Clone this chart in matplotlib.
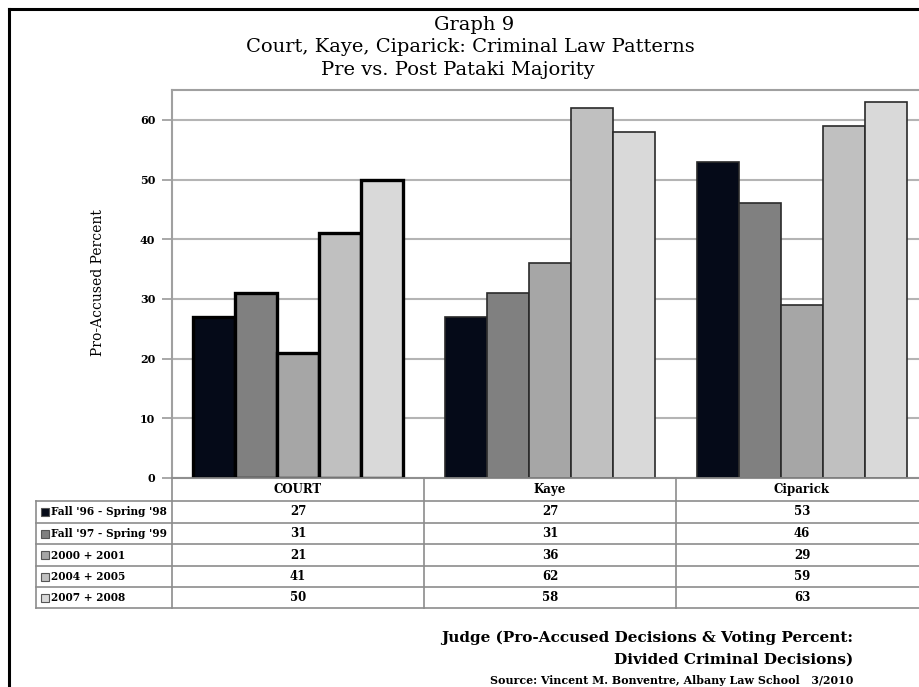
#!/usr/bin/env python

import numpy as np
import matplotlib.pyplot as plt
from matplotlib.lines import Line2D
from matplotlib.patches import Rectangle
from matplotlib.transforms import blended_transform_factory

plt.rcParams['font.family'] = ['DejaVu Serif']

judges = ['COURT', 'Kaye', 'Ciparick']
periods = ["Fall '96 - Spring '98", "Fall '97 - Spring '99",
           '2000 + 2001', '2004 + 2005', '2007 + 2008']
pct_96_98 = [27, 27, 53]
pct_97_99 = [31, 31, 46]
pct_00_01 = [21, 36, 29]
pct_04_05 = [41, 62, 59]
pct_07_08 = [50, 58, 63]
series = [pct_96_98, pct_97_99, pct_00_01, pct_04_05, pct_07_08]
shades = ['#050a18', '#808080', '#a6a6a6', '#c0c0c0', '#d9d9d9']

W, H = 919, 687
fig = plt.figure(figsize=(W / 100, H / 100), dpi=100)

def fx(px):
    return px / W

def fy(py):
    return 1 - py / H

# plot area runs past the right edge, like the cropped original
ax = fig.add_axes([fx(172), fy(478), fx(928 - 172), (478 - 90) / H])

x = np.arange(len(judges))
width = 1 / 6
for i, vals in enumerate(series):
    bars = ax.bar(x + (i - 2) * width, vals, width, color=shades[i],
                  edgecolor='#2a2a2a', linewidth=1.2, zorder=3)
    # COURT bars get the heavy outline
    bars[0].set_edgecolor('black')
    bars[0].set_linewidth(2.4)

ax.set_xlim(-0.5, 2.5)
ax.set_ylim(0, 65)
ax.set_yticks(range(0, 70, 10))
ax.set_yticklabels([str(v) for v in range(0, 70, 10)],
                   fontsize=8, fontweight='bold')
ax.tick_params(axis='y', length=7, width=1.2, color='#999999', pad=5)
ax.set_xticks([])
ax.grid(axis='y', color='#b4b4b4', linewidth=1.5, zorder=0)
for side in ['left', 'top', 'right', 'bottom']:
    ax.spines[side].set_color('#a0a0a0')
    ax.spines[side].set_linewidth(1.5)

fig.text(fx(98), fy(283), 'Pro-Accused Percent', rotation=90,
         ha='center', va='center', fontsize=10)

# title
fig.text(fx(474), fy(25), 'Graph 9', ha='center', va='center', fontsize=14)
fig.text(fx(470), fy(47), 'Court, Kaye, Ciparick: Criminal Law Patterns',
         ha='center', va='center', fontsize=14)
fig.text(fx(458), fy(70), 'Pre vs. Post Pataki Majority',
         ha='center', va='center', fontsize=14)

# data table under the axis
grid_c = '#8c8c8c'
tx = blended_transform_factory(ax.transData, fig.transFigure)
row_lines = [478, 500.7, 522.7, 544.3, 566, 587, 608.3]
for k, py in enumerate(row_lines):
    x0 = 172 if k == 0 else 36
    fig.add_artist(Line2D([fx(x0), 1.0], [fy(py), fy(py)], color=grid_c,
                          linewidth=1.2))
for xb in [-0.5, 0.5, 1.5, 2.5]:
    fig.add_artist(Line2D([xb, xb], [fy(478), fy(608.3)], color=grid_c,
                          linewidth=1.2, transform=tx))
fig.add_artist(Line2D([fx(36), fx(36)], [fy(500.7), fy(608.3)],
                      color=grid_c, linewidth=1.2))

for j, name in enumerate(judges):
    fig.text(x[j], fy(489.5), name, transform=tx, ha='center', va='center',
             fontsize=8.5, fontweight='bold')
for i, vals in enumerate(series):
    yc = (row_lines[i + 1] + row_lines[i + 2]) / 2
    fig.add_artist(Rectangle((fx(41), fy(yc + 4)), fx(8), 8 / H,
                             facecolor=shades[i], edgecolor='#555555',
                             linewidth=0.8))
    fig.text(fx(51), fy(yc), periods[i], ha='left', va='center',
             fontsize=7.6, fontweight='bold')
    for j, v in enumerate(vals):
        fig.text(x[j], fy(yc), str(v), transform=tx, ha='center',
                 va='center', fontsize=8.5, fontweight='bold')

# axis title and source
fig.text(fx(853), fy(638), 'Judge (Pro-Accused Decisions & Voting Percent:',
         ha='right', va='center', fontsize=11, fontweight='bold')
fig.text(fx(853), fy(660), 'Divided Criminal Decisions)',
         ha='right', va='center', fontsize=11, fontweight='bold')
fig.text(fx(853), fy(680),
         'Source: Vincent M. Bonventre, Albany Law School   3/2010',
         ha='right', va='center', fontsize=7.9, fontweight='bold')

# outer frame (left and top edges show)
fig.add_artist(Line2D([fx(9), fx(9)], [fy(9), 0], color='black', linewidth=2.2))
fig.add_artist(Line2D([fx(9), 1], [fy(9), fy(9)], color='black', linewidth=2.2))

plt.savefig('out.png', dpi=100)
